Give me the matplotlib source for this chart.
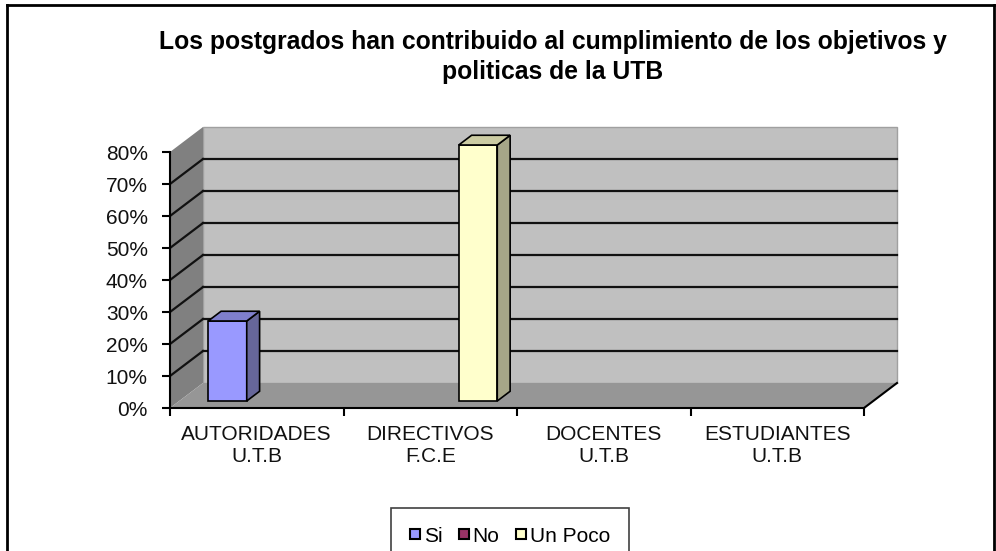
import matplotlib
matplotlib.use("Agg")
import matplotlib.pyplot as plt
from matplotlib.patches import Polygon
from matplotlib.lines import Line2D
import numpy as np

plt.rcParams['font.family'] = ['Liberation Sans', 'DejaVu Sans']

# data
categorias = ["AUTORIDADES\nU.T.B", "DIRECTIVOS\nF.C.E", "DOCENTES\nU.T.B", "ESTUDIANTES\nU.T.B"]
series = ["Si", "No", "Un Poco"]
si = [25, 0, 0, 0]
no = [0, 0, 0, 0]
un_poco = [0, 80, 0, 0]
valores = [si, no, un_poco]
yticks = [0, 10, 20, 30, 40, 50, 60, 70, 80]

# colours: front, side, top
colores = [("#9999ff", "#666699", "#7f7fcc"),
           ("#993366", "#662244", "#7a2952"),
           ("#ffffcc", "#a6a688", "#cccca3")]

W, H = 996, 551
fig = plt.figure(figsize=(W / 100, H / 100), dpi=100)

# front plane of the 3D box
x0, x1, yb, yt = 170, 864, 408, 152
ax = fig.add_axes([x0 / W, 1 - yb / H, (x1 - x0) / W, (yb - yt) / H])
n = len(categorias)
ymax = 80
ax.set_xlim(0, n)
ax.set_ylim(0, ymax)

# depth offset in data units
DX = 33 / ((x1 - x0) / n)
DY = 25 / ((yb - yt) / ymax)

# walls and floor
ax.add_patch(Polygon([(DX, DY), (n + DX, DY), (n + DX, ymax + DY), (DX, ymax + DY)],
                     closed=True, fc="#c0c0c0", ec="#a0a0a0", lw=1, clip_on=False, zorder=1))
ax.add_patch(Polygon([(0, 0), (DX, DY), (DX, ymax + DY), (0, ymax)],
                     closed=True, fc="#808080", ec="none", clip_on=False, zorder=1))
ax.add_patch(Polygon([(0, 0), (n, 0), (n + DX, DY), (DX, DY)],
                     closed=True, fc="#969696", ec="none", clip_on=False, zorder=1))
ax.plot([n, n + DX], [0, DY], color="black", lw=1.5, clip_on=False, zorder=2)

# gridlines on back wall and left wall
for v in yticks[1:-1]:
    ax.plot([DX, n + DX], [v + DY, v + DY], color="#111111", lw=1.6, clip_on=False, zorder=2)
    ax.plot([0, DX], [v, v + DY], color="#111111", lw=1.6, clip_on=False, zorder=2)

# 3D bars
gap = 0.167
bw = (1 - 2 * gap) / len(series)
fpos = 0.28
bdep = 0.39
for i, vals in enumerate(valores):
    cf, cs, ct = colores[i]
    for j, v in enumerate(vals):
        if v <= 0:
            continue
        xa = j + gap + i * bw + fpos * DX
        xb = xa + bw
        ya = fpos * DY
        yv = v + ya
        bx, by = bdep * DX, bdep * DY
        kw = dict(closed=True, ec="black", lw=1.2, clip_on=False, zorder=3)
        ax.add_patch(Polygon([(xa, ya), (xb, ya), (xb, yv), (xa, yv)], fc=cf, **kw))
        ax.add_patch(Polygon([(xb, ya), (xb + bx, ya + by), (xb + bx, yv + by), (xb, yv)], fc=cs, **kw))
        ax.add_patch(Polygon([(xa, yv), (xb, yv), (xb + bx, yv + by), (xa + bx, yv + by)], fc=ct, **kw))

# axes styling
ax.patch.set_visible(False)
for s in ["top", "right"]:
    ax.spines[s].set_visible(False)
for s in ["left", "bottom"]:
    ax.spines[s].set_linewidth(1.5)
    ax.spines[s].set_zorder(4)
ax.set_yticks(yticks)
ax.set_yticklabels([f"{v}%" for v in yticks], fontsize=15, color="#111111")
ax.tick_params(axis="y", direction="out", length=6, width=1.5, pad=10)
ax.set_xticks(range(n + 1))
ax.set_xticklabels([])
ax.tick_params(axis="x", which="major", direction="out", length=6, width=1.5)
ax.set_xticks(np.arange(n) + 0.5, minor=True)
ax.set_xticklabels(categorias, minor=True, fontsize=15, color="#111111", linespacing=1.25)
ax.tick_params(axis="x", which="minor", length=0, pad=12)

# title
fig.text(553 / W, 1 - 57 / H,
         "Los postgrados han contribuido al cumplimiento de los objetivos y\npoliticas de la UTB",
         ha="center", va="center", fontsize=17.8, fontweight="bold", linespacing=1.35)

# legend
handles = [Line2D([], [], ls="none", marker="s", markersize=7.5, markerfacecolor=c[0],
                  markeredgecolor="black", markeredgewidth=1.5) for c in colores]
leg = fig.legend(handles, series, loc="upper center", bbox_to_anchor=(510 / W, 1 - 508 / H),
                 ncol=3, fontsize=15, frameon=True, fancybox=False, edgecolor="#111111",
                 handlelength=0.5, handletextpad=0.15, columnspacing=0.8, borderpad=0.9,
                 borderaxespad=0)
leg.get_frame().set_linewidth(1.2)

# chart border
fig.add_artist(Line2D([6.5 / W, 6.5 / W], [0, 1 - 5 / H], color="black", lw=2))
fig.add_artist(Line2D([6.5 / W, 994 / W], [1 - 5 / H, 1 - 5 / H], color="black", lw=2))
fig.add_artist(Line2D([994 / W, 994 / W], [0, 1 - 5 / H], color="black", lw=2))

fig.savefig("out.png", dpi=100)
